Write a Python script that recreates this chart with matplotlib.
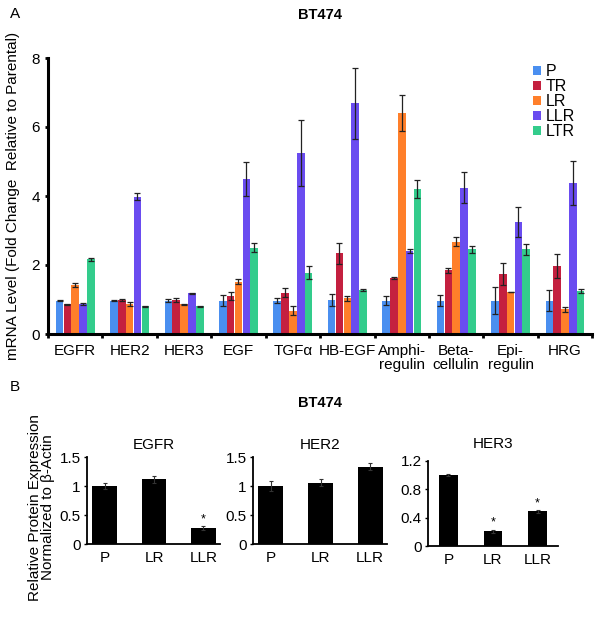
import numpy as np
import matplotlib
matplotlib.use("Agg")
import matplotlib.pyplot as plt

plt.rcParams['font.family'] = ['Liberation Sans', 'DejaVu Sans']

# ---- Panel A data ----
genes = ["EGFR", "HER2", "HER3", "EGF", "TGFα", "HB-EGF", "Amphi-\nregulin",
         "Beta-\ncellulin", "Epi-\nregulin", "HRG"]
series = ["P", "TR", "LR", "LLR", "LTR"]
colors = ["#4a8ff0", "#c4203f", "#ff7f2a", "#6a4cf0", "#33cc8c"]

P_vals = [0.97, 0.97, 0.97, 0.97, 0.97, 0.98, 0.97, 0.97, 0.97, 0.97]
P_err = [0.02, 0.02, 0.04, 0.15, 0.07, 0.18, 0.12, 0.17, 0.40, 0.30]
TR_vals = [0.86, 0.99, 0.99, 1.10, 1.20, 2.34, 1.63, 1.85, 1.75, 1.96]
TR_err = [0.02, 0.03, 0.05, 0.12, 0.12, 0.30, 0.03, 0.07, 0.32, 0.35]
LR_vals = [1.42, 0.86, 0.86, 1.52, 0.67, 1.03, 6.40, 2.68, 1.22, 0.72]
LR_err = [0.05, 0.06, 0.02, 0.06, 0.13, 0.08, 0.52, 0.14, 0.01, 0.07]
LLR_vals = [0.87, 3.98, 1.18, 4.49, 5.24, 6.69, 2.40, 4.24, 3.25, 4.37]
LLR_err = [0.02, 0.10, 0.02, 0.50, 0.95, 1.03, 0.06, 0.45, 0.43, 0.64]
LTR_vals = [2.16, 0.80, 0.80, 2.50, 1.78, 1.27, 4.19, 2.45, 2.45, 1.24]
LTR_err = [0.04, 0.02, 0.02, 0.13, 0.20, 0.03, 0.26, 0.10, 0.15, 0.05]

vals = [P_vals, TR_vals, LR_vals, LLR_vals, LTR_vals]
errs = [P_err, TR_err, LR_err, LLR_err, LTR_err]

# ---- Panel B data ----
groups_b = ["P", "LR", "LLR"]
egfr_b = [1.00, 1.12, 0.28]
egfr_b_err = [0.05, 0.06, 0.03]
egfr_sig = [False, False, True]
her2_b = [1.00, 1.06, 1.33]
her2_b_err = [0.08, 0.06, 0.06]
her2_sig = [False, False, False]
her3_b = [1.00, 0.21, 0.49]
her3_b_err = [0.01, 0.02, 0.02]
her3_sig = [False, True, True]

FS = 11

fig = plt.figure(figsize=(6.0, 6.25), dpi=100)

# ---------------- Panel A ----------------
ax = fig.add_axes([0.08, 0.4656, 0.907, 0.4416])
x = np.arange(len(genes))
bw = 0.144
for i, (s, c) in enumerate(zip(series, colors)):
    off = (i - 2) * bw
    ax.bar(x + off, vals[i], width=bw * 0.97, color=c, label=s, zorder=2)
    ax.errorbar(x + off, vals[i], yerr=errs[i], fmt='none', ecolor='#222222',
                elinewidth=0.9, capsize=2, capthick=0.9, zorder=3)
ax.set_xlim(-0.5, len(genes) - 0.5)
ax.set_ylim(0, 8)
ax.set_yticks([0, 2, 4, 6, 8])
ax.tick_params(axis='y', labelsize=FS, length=2, width=2, pad=4)
ax.set_xticks(np.arange(len(genes) + 1) - 0.5)
ax.set_xticklabels([])
ax.tick_params(axis='x', which='major', length=3, width=2, direction='out')
ax.set_xticks(x, minor=True)
ax.set_xticklabels(genes, minor=True, fontsize=FS, linespacing=1.05)
ax.tick_params(axis='x', which='minor', length=0, pad=7)
for sp in ['top', 'right']:
    ax.spines[sp].set_visible(False)
for sp in ['left', 'bottom']:
    ax.spines[sp].set_linewidth(2.2)
ax.set_ylabel("mRNA Level (Fold Change  Relative to Parental)", fontsize=11, labelpad=8)
ax.set_title("BT474", fontsize=10.5, fontweight='bold', pad=28)
leg = ax.legend(loc='upper left', bbox_to_anchor=(0.88, 1.0), frameon=False,
                fontsize=11.5, handlelength=0.5, handleheight=0.5, handletextpad=0.25,
                labelspacing=0.0, borderaxespad=0)

fig.text(0.017, 0.978, "A", fontsize=FS, ha='left', va='center')
fig.text(0.017, 0.381, "B", fontsize=FS, ha='left', va='center')
fig.text(0.533, 0.355, "BT474", fontsize=10.5, fontweight='bold', ha='center', va='center')

# ---------------- Panel B ----------------
def small_panel(rect, values, errors, sig, title, ylim, yticks, yticklabels, xlim, bwid, tpad):
    a = fig.add_axes(rect)
    xb = np.arange(len(groups_b))
    a.bar(xb, values, width=bwid, color='black', zorder=2)
    a.errorbar(xb, values, yerr=errors, fmt='none', ecolor='#333333',
               elinewidth=0.8, capsize=1.5, capthick=0.8, zorder=3)
    for xi, v, e, s in zip(xb, values, errors, sig):
        if s:
            a.text(xi, v + e + ylim[1] * 0.01, "*", ha='center', va='bottom', fontsize=9)
    a.set_xlim(*xlim)
    a.set_ylim(*ylim)
    a.set_yticks(yticks)
    a.set_yticklabels(yticklabels)
    a.set_xticks(xb)
    a.set_xticklabels(groups_b)
    a.tick_params(axis='x', length=0, labelsize=FS, pad=5)
    a.tick_params(axis='y', length=2.5, width=1, labelsize=FS, pad=2)
    for sp in ['top', 'right']:
        a.spines[sp].set_visible(False)
    for sp in ['left', 'bottom']:
        a.spines[sp].set_linewidth(1.3)
    a.set_title(title, fontsize=FS, pad=tpad)
    return a

a1 = small_panel([0.145, 0.1296, 0.2217, 0.139], egfr_b, egfr_b_err, egfr_sig, "EGFR",
                 (0, 1.5), [0, 0.5, 1, 1.5], ["0", "0.5", "1", "1.5"], (-0.36, 2.34), 0.5, 6)
a1.set_ylabel("Relative Protein Expression\nNormalized to β-Actin", fontsize=FS,
              linespacing=0.95)
a1.yaxis.set_label_coords(-0.24, 0.42)
small_panel([0.4217, 0.1296, 0.2233, 0.139], her2_b, her2_b_err, her2_sig, "HER2",
            (0, 1.5), [0, 0.5, 1, 1.5], ["0", "0.5", "1", "1.5"], (-0.36, 2.34), 0.5, 6)
small_panel([0.7133, 0.1264, 0.2167, 0.136], her3_b, her3_b_err, her3_sig, "HER3",
            (0, 1.2), [0, 0.4, 0.8, 1.2], ["0", "0.4", "0.8", "1.2"], (-0.46, 2.46), 0.42, 9)

fig.savefig("out.png", dpi=100)
